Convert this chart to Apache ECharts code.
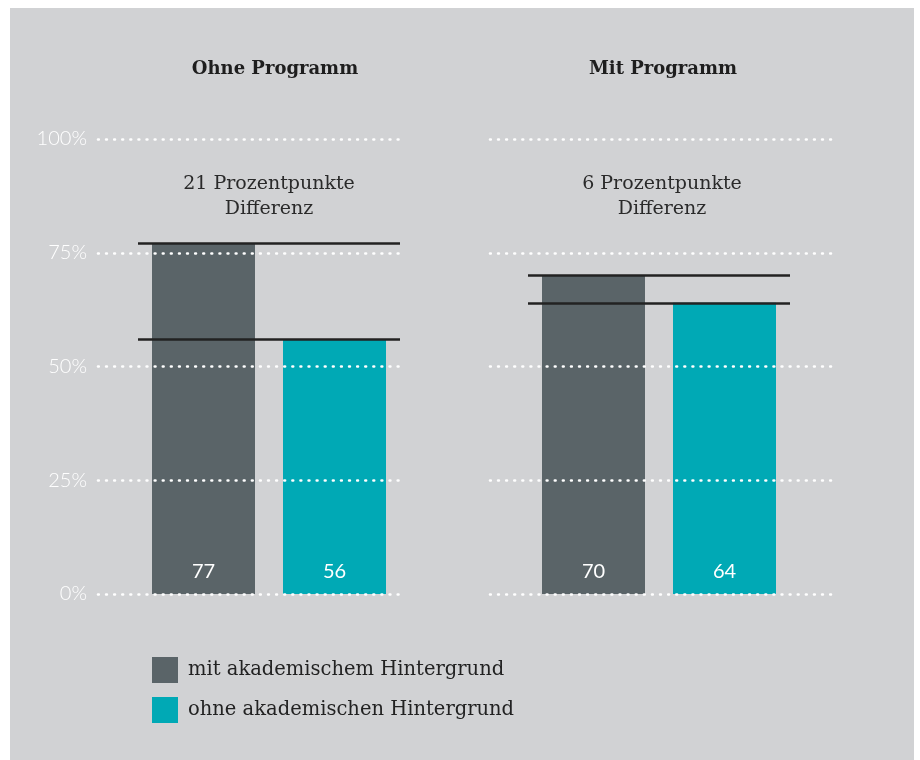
<!DOCTYPE html>
<html lang="de">
<head>
<meta charset="UTF-8">
<title>Programm Vergleich</title>
<script src="https://cdn.jsdelivr.net/npm/echarts@6/dist/echarts.min.js"></script>
<style>
  body { margin: 0; background: #fff; }
  #main { width: 920px; height: 760px; }
</style>
</head>
<body>
<div id="main"></div>
<script>
// Daten
var panels = ['Ohne Programm', 'Mit Programm'];
var seriesNames = ['mit akademischem Hintergrund', 'ohne akademischen Hintergrund'];
var mitAkad = [77, 70];
var ohneAkad = [56, 64];
var yTicks = [0, 25, 50, 75, 100];

var colDark = '#5a6468';
var colTeal = '#00a9b5';
var serif = '"DejaVu Serif", serif';
var sans = 'Lato, "Open Sans", sans-serif';

// Layout: Balken-Grids und Hintergrund-Grids (nur gepunktete Linien)
var barGrids = [
    { left: 138, width: 262, top: 139, bottom: 166 },
    { left: 528, width: 262, top: 139, bottom: 166 }
];
var bgGrids = [
    { left: 98, width: 302, top: 139, bottom: 166 },
    { left: 490, width: 342, top: 139, bottom: 166 }
];
var panelCenters = [275, 663];
var noteCenters = [269, 662];

var grids = [], xAxes = [], yAxes = [], series = [], titles = [];

for (var i = 0; i < 2; i++) {
    // Hintergrund-Grid mit Skala (ueber den Balken)
    grids.push(bgGrids[i]);
    xAxes.push({ gridIndex: grids.length - 1, type: 'category', data: [''], show: false });
    yAxes.push({
        gridIndex: grids.length - 1, type: 'value', min: 0, max: 100, interval: 25, z: 10,
        axisLine: { show: false }, axisTick: { show: false },
        axisLabel: {
            show: i === 0, color: '#ffffff', fontFamily: sans, fontWeight: 300, fontSize: 20, margin: 11,
            formatter: function (v) { return yTicks.indexOf(v) >= 0 ? v + '%' : ''; }
        },
        splitLine: { show: true, lineStyle: { color: '#ffffff', width: 2.6, type: [0.8, 7.3], cap: 'round' } }
    });

    // Balken-Grid
    grids.push(barGrids[i]);
    var gi = grids.length - 1;
    xAxes.push({ gridIndex: gi, type: 'category', data: seriesNames, show: false });
    yAxes.push({ gridIndex: gi, type: 'value', min: 0, max: 100, show: false });

    series.push({
        type: 'bar', xAxisIndex: gi, yAxisIndex: gi, barWidth: 103,
        data: [
            { value: mitAkad[i], itemStyle: { color: colDark } },
            { value: ohneAkad[i], itemStyle: { color: colTeal } }
        ],
        label: {
            show: true, position: 'insideBottom', distance: 12,
            color: '#ffffff', fontFamily: sans, fontWeight: 'normal', fontSize: 20
        },
        markLine: {
            silent: true, symbol: 'none',
            label: { show: false },
            lineStyle: { color: '#222222', width: 2.5, type: 'solid' },
            data: [{ yAxis: mitAkad[i] }, { yAxis: ohneAkad[i] }]
        },
        z: 3
    });

    titles.push({
        text: panels[i], left: panelCenters[i], top: 60, textAlign: 'center', padding: 0,
        textStyle: { fontFamily: serif, fontWeight: 'bold', fontSize: 18, color: '#1e1e1e' }
    });
    titles.push({
        text: (mitAkad[i] - ohneAkad[i]) + ' Prozentpunkte\nDifferenz',
        left: noteCenters[i], top: 172, textAlign: 'center', padding: 0,
        textStyle: { fontFamily: serif, fontWeight: 'normal', fontSize: 19, lineHeight: 25, color: '#2a2a2a' }
    });
}

// Legende ueber Hilfsserien (im Hintergrund-Grid, damit die Balken nicht verschoben werden)
series.push({ name: seriesNames[0], type: 'bar', xAxisIndex: 0, yAxisIndex: 0, data: [], itemStyle: { color: colDark } });
series.push({ name: seriesNames[1], type: 'bar', xAxisIndex: 0, yAxisIndex: 0, data: [], itemStyle: { color: colTeal } });

var chart = echarts.init(document.getElementById('main'));
chart.setOption({
    animation: false,
    backgroundColor: '#ffffff',
    graphic: [{
        type: 'rect', left: 10, top: 8, z: -10,
        shape: { width: 904, height: 752 },
        style: { fill: '#d1d2d4' }
    }],
    title: titles,
    grid: grids,
    xAxis: xAxes,
    yAxis: yAxes,
    legend: {
        data: seriesNames,
        orient: 'vertical', left: 152, top: 657, padding: 0,
        icon: 'rect', itemWidth: 26, itemHeight: 26, itemGap: 14,
        textStyle: { fontFamily: serif, fontSize: 19.5, color: '#222222', padding: [2, 0, 0, 5] }
    },
    series: series
});
</script>
</body>
</html>
